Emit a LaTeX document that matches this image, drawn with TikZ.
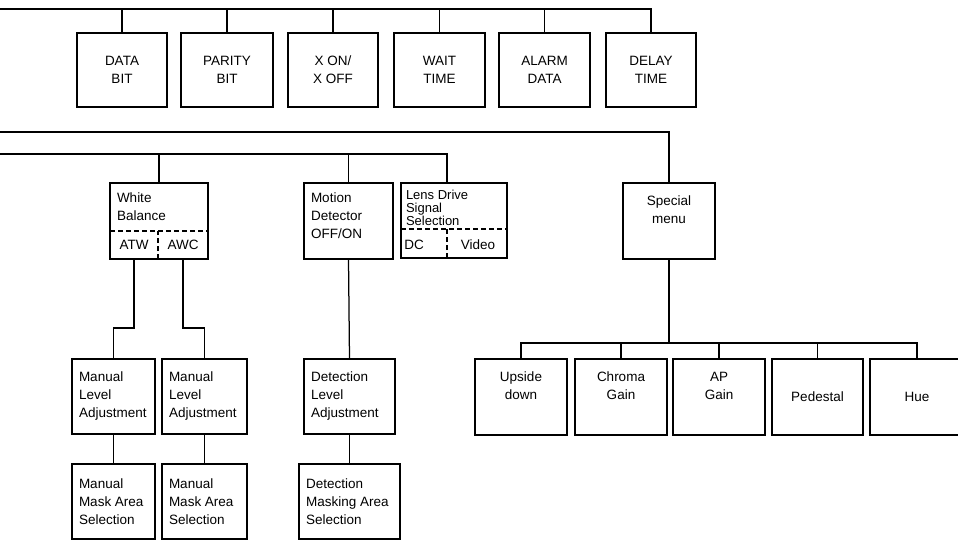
\documentclass[tikz,border=0pt]{standalone}
\usepackage{fontspec}
\setmainfont{Liberation Sans}
\newcommand\fs{\fontsize{13.5}{18}\selectfont}
% centred text, vertically centred
\newcommand\ctext[3]{\parbox[c][#2][c]{#1}{\fs\centering #3\par}}
% centred text, top aligned with pad
\newcommand\ttext[4]{\parbox[c][#2][t]{#1}{\fs\vspace*{#3}\centering #4\par}}
% left text, top aligned with pad: width, height, pad, size, skip, left pad, text
\newcommand\ltext[7]{\parbox[c][#2][t]{#1}{\fontsize{#4}{#5}\selectfont\vspace*{#3}\raggedright\leftskip=#6 #7\par}}
% left text, vertically centred
\newcommand\lctext[3]{\parbox[c][#2][c]{#1}{\fs\raggedright\leftskip=7pt #3\par}}
\begin{document}
\begin{tikzpicture}[x=1pt,y=-1pt,line width=1.25pt,
  box/.style={draw,inner sep=0pt,outer sep=0pt,anchor=north west},
  lbl/.style={inner sep=0pt,font=\fs},
  dsh/.style={line width=1.2pt,dash pattern=on 5pt off 3pt}]
\useasboundingbox (0,0) rectangle (958,539);

% ---------- top row ----------
\coordinate (tbus) at (0,9);
\node[box] (data)   at (77,33)  {\ctext{90pt}{74pt}{DATA\\BIT}};
\node[box] (parity) at (181,33) {\ctext{92pt}{74pt}{PARITY\\BIT}};
\node[box] (xon)    at (288,33) {\ctext{90pt}{74pt}{X ON/\\X OFF}};
\node[box] (wait)   at (394,33) {\ctext{91pt}{74pt}{WAIT\\TIME}};
\node[box] (alarm)  at (499,33) {\ctext{91pt}{74pt}{ALARM\\DATA}};
\node[box] (delay)  at (606,33) {\ctext{90pt}{74pt}{DELAY\\TIME}};
\draw (tbus) -| (delay.north);
\foreach \n in {data,parity,xon,wait,alarm}
  \draw (\n.north) -- (\n.north |- tbus);

% ---------- second bus to special menu ----------
\coordinate (sbus) at (0,132);
\node[box] (special) at (623,183) {\ttext{92pt}{76pt}{13pt}{Special\\menu}};
\draw (sbus) -| (special.north);

% ---------- third bus ----------
\coordinate (mbus) at (0,154);
\node[box] (wb) at (110,183) {\ltext{98pt}{76pt}{10pt}{13.5}{18}{7pt}{White\\Balance}};
\draw[dsh] ([yshift=28pt]wb.south west) -- ([yshift=28pt]wb.south east);
\coordinate (wbdiv) at ([xshift=48pt]wb.south west);
\draw[dsh] (wbdiv) -- ([yshift=28pt]wbdiv);
\node[lbl] (atw) at (134,245) {ATW};
\node[lbl] (awc) at (183,245) {AWC};

\node[box] (motion) at (304,183) {\ltext{89pt}{76pt}{10pt}{13.5}{18}{7pt}{Motion\\Detector\\OFF/ON}};

\node[box] (lens) at (401,183) {\ltext{106pt}{75pt}{7pt}{13}{13}{5pt}{Lens Drive\\Signal\\Selection}};
\draw[dsh] ([yshift=29pt]lens.south west) -- ([yshift=29pt]lens.south east);
\coordinate (lensdiv) at ([xshift=46pt]lens.south west);
\draw[dsh] (lensdiv) -- ([yshift=29pt]lensdiv);
\coordinate (lenstop) at ([xshift=46pt]lens.north west);
\node[lbl] (dc)    at (414,245) {DC};
\node[lbl] (video) at (478,245) {Video};

\draw (mbus) -| (lenstop);
\draw (wb.north) -- (wb.north |- mbus);
\draw (motion.north) -- (motion.north |- mbus);

% ---------- white balance branch ----------
\coordinate (elb) at (0,328);
\node[box] (ml1) at (72,359)  {\lctext{83pt}{75pt}{Manual\\Level\\Adjustment}};
\node[box] (ml2) at (162,359) {\lctext{85pt}{75pt}{Manual\\Level\\Adjustment}};
\node[box] (mm1) at (72,464)  {\lctext{83pt}{75pt}{Manual\\Mask Area\\Selection}};
\node[box] (mm2) at (162,464) {\lctext{85pt}{75pt}{Manual\\Mask Area\\Selection}};
\draw (atw |- wb.south) -- (atw |- elb) -| (ml1.north);
\draw (awc |- wb.south) -- (awc |- elb) -| (ml2.north);
\draw (ml1.south) -- (mm1.north);
\draw (ml2.south) -- (mm2.north);

% ---------- motion detector branch ----------
\node[box] (dl) at (304,359) {\lctext{91pt}{75pt}{Detection\\Level\\Adjustment}};
\node[box] (dm) at (299,464) {\lctext{101pt}{75pt}{Detection\\Masking Area\\Selection}};
\draw (motion.south) -- (dl.north);
\draw (dl.south) -- (dm.north);

% ---------- special menu branch ----------
\coordinate (rbus) at (0,343);
\node[box] (upside) at (475,359) {\ttext{92pt}{76pt}{13pt}{Upside\\down}};
\node[box] (chroma) at (575,359) {\ttext{92pt}{76pt}{13pt}{Chroma\\Gain}};
\node[box] (ap)     at (673,359) {\ttext{92pt}{76pt}{13pt}{AP\\Gain}};
\node[box] (ped)    at (772,359) {\ctext{91pt}{76pt}{Pedestal}};
\node[box] (hue)    at (870,359) {\ctext{94pt}{76pt}{Hue}};
\draw (special.south) -- (special.south |- rbus);
\draw (upside.north) |- (hue.north |- rbus) -- (hue.north);
\foreach \n in {chroma,ap,ped}
  \draw (\n.north) -- (\n.north |- rbus);
\end{tikzpicture}
\end{document}
